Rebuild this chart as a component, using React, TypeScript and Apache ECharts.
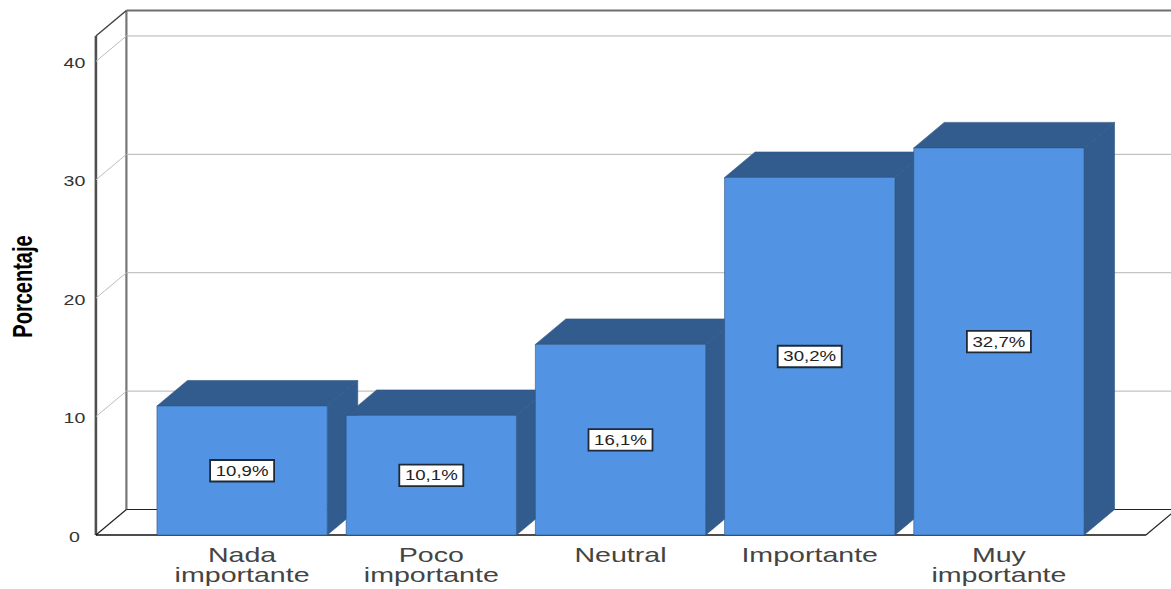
import React, { useEffect, useRef } from "react";
import * as echarts from "echarts";

const categories = ["Nada\nimportante", "Poco\nimportante", "Neutral", "Importante", "Muy\nimportante"];
const percentages = [10.9, 10.1, 16.1, 30.2, 32.7];
const barLabels = ["10,9%", "10,1%", "16,1%", "30,2%", "32,7%"];
const yTicks = [0, 10, 20, 30, 40];

const FRONT = "#5294E3";
const SIDE = "#335C8E";
const EDGE = "#2F5583";
const FONT = "'Liberation Sans', Arial, sans-serif";
const DEPTH_X = 30.5;
const DEPTH_Y = 25.5;
const STRETCH = 1.43;

const line = (x1: number, y1: number, x2: number, y2: number, stroke: string, lineWidth: number) => ({
  type: "line",
  shape: { x1, y1, x2, y2 },
  style: { stroke, lineWidth },
});

// Box walls, floor and gridlines, one call per y tick plus the outer frame on the first tick.
function renderFrame(params: any, api: any) {
  const cs = params.coordSys;
  const left = cs.x - 51.6;
  const right = cs.x + cs.width + 52.4;
  const limit = cs.x + cs.width + 78;
  const tick = api.value(1);
  const y = api.coord([0, tick])[1];
  const children: any[] = [];
  if (tick === 0) {
    children.push(
      line(left + DEPTH_X, cs.y - DEPTH_Y, limit, cs.y - DEPTH_Y, "#6E6E6E", 1.8),
      line(left + DEPTH_X, cs.y - DEPTH_Y, left + DEPTH_X, y - DEPTH_Y, "#777777", 2.2),
      line(left, cs.y, left + DEPTH_X, cs.y - DEPTH_Y, "#444444", 1.5),
      line(left, cs.y, left, y, "#505050", 2.6),
      line(left + DEPTH_X, y - DEPTH_Y, limit, y - DEPTH_Y, "#222222", 1.2),
      line(left, y, left + DEPTH_X, y - DEPTH_Y, "#222222", 1.2),
      line(left, y, right, y, "#111111", 1.4),
      line(right, y, right + DEPTH_X, y - DEPTH_Y, "#222222", 1.2),
    );
  } else {
    children.push(
      line(left, y, left + DEPTH_X, y - DEPTH_Y, "#BDBDBD", 1),
      line(left + DEPTH_X, y - DEPTH_Y, limit, y - DEPTH_Y, "#B4B4B4", 1),
    );
  }
  children.push({
    type: "text",
    x: left - 21.5,
    y: y + 2,
    scaleX: 1.4,
    style: {
      text: String(tick),
      fill: "#333333",
      font: `14px ${FONT}`,
      align: "center",
      verticalAlign: "middle",
    },
  });
  return { type: "group", children };
}

// Extruded column: front, side and top faces, a boxed value label and the category name.
function renderBar(params: any, api: any) {
  const i = params.dataIndex;
  const [cx, y0] = api.coord([i, 0]);
  const y1 = api.coord([i, api.value(1)])[1];
  const half = (api.size([1, 0])[0] * 0.9) / 2;
  const l = cx - half;
  const r = cx + half;
  const dx = DEPTH_X;
  const dy = DEPTH_Y;
  const midY = (y0 + y1) / 2;
  return {
    type: "group",
    children: [
      {
        type: "polygon",
        shape: { points: [[r, y1], [r + dx, y1 - dy], [r + dx, y0 - dy], [r, y0]] },
        style: { fill: SIDE, stroke: EDGE, lineWidth: 0.6 },
      },
      {
        type: "polygon",
        shape: { points: [[l, y1], [l + dx, y1 - dy], [r + dx, y1 - dy], [r, y1]] },
        style: { fill: SIDE, stroke: EDGE, lineWidth: 0.6 },
      },
      {
        type: "rect",
        shape: { x: l, y: y1, width: r - l, height: y0 - y1 },
        style: { fill: FRONT, stroke: EDGE, lineWidth: 0.6 },
      },
      {
        type: "rect",
        shape: { x: cx - 32, y: midY - 10.5, width: 64, height: 21.5 },
        style: { fill: "#FFFFFF", stroke: "#1F2A38", lineWidth: 1.8 },
      },
      {
        type: "text",
        x: cx,
        y: midY,
        scaleX: 1.33,
        style: {
          text: barLabels[i],
          fill: "#222222",
          font: `14px ${FONT}`,
          align: "center",
          verticalAlign: "middle",
        },
      },
      {
        type: "text",
        x: cx,
        y: y0 + 10,
        scaleX: STRETCH,
        style: {
          text: categories[i],
          fill: "#444444",
          font: `20px ${FONT}`,
          lineHeight: 20,
          align: "center",
          verticalAlign: "top",
        },
      },
    ],
  };
}

export default function App() {
  const ref = useRef<HTMLDivElement>(null);

  useEffect(() => {
    const chart = echarts.init(ref.current!, null, { renderer: "svg" });
    chart.setOption({
      animation: false,
      backgroundColor: "#FFFFFF",
      grid: { left: 147.5, right: 77.5, top: 36, bottom: 54 },
      xAxis: {
        type: "category",
        data: categories,
        axisLine: { show: false },
        axisTick: { show: false },
        axisLabel: { show: false },
      },
      yAxis: {
        type: "value",
        min: 0,
        max: 42.15,
        interval: 10,
        axisLine: { show: false },
        axisTick: { show: false },
        axisLabel: { show: false },
        splitLine: { show: false },
      },
      graphic: [
        {
          type: "text",
          x: 22.5,
          y: 286.5,
          rotation: Math.PI / 2,
          scaleY: 1.4,
          style: {
            text: "Porcentaje",
            fill: "#000000",
            font: `bold 20px ${FONT}`,
            align: "center",
            verticalAlign: "middle",
          },
        },
      ],
      series: [
        {
          type: "custom",
          coordinateSystem: "cartesian2d",
          renderItem: renderFrame,
          data: yTicks.map((t) => [0, t]),
          encode: { x: 0, y: 1 },
          clip: false,
          silent: true,
          z: 1,
        },
        {
          type: "custom",
          coordinateSystem: "cartesian2d",
          renderItem: renderBar,
          data: percentages.map((v, i) => [i, v]),
          encode: { x: 0, y: 1 },
          clip: false,
          silent: true,
          z: 2,
        },
      ],
    });
    return () => chart.dispose();
  }, []);

  return (
    <div
      ref={ref}
      style={{ position: "absolute", left: 0, top: 0, width: 1171, height: 589 }}
    />
  );
}
